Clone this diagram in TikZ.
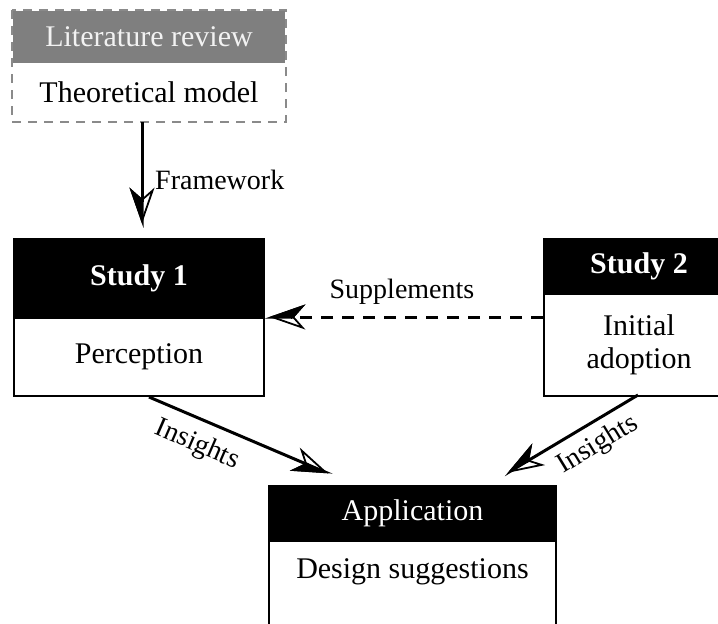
\documentclass[tikz,border=0pt]{standalone}
\usepackage{fontspec}
\setmainfont{Liberation Serif}
\usetikzlibrary{arrows.meta}
\definecolor{litgray}{HTML}{7F7F7F}
\definecolor{dashgray}{HTML}{8A8A8A}
\definecolor{offwhite}{HTML}{F2F2F2}
\begin{document}
\begin{tikzpicture}[x=1pt,y=-1pt,
  boxtxt/.style={font=\fontsize{30}{33}\selectfont},
  lbl/.style={font=\fontsize{28}{32}\selectfont, inner sep=0pt},
  hdr/.style={rectangle, draw=black, fill=black, text=white, line width=2pt, anchor=north west, boxtxt, inner sep=0pt},
  bdy/.style={rectangle, draw=black, fill=white, line width=2pt, anchor=north west, boxtxt, inner sep=0pt, align=center},
  arr/.style={line width=3pt, -{Stealth[open,length=36pt,width=25pt,inset=11pt,line width=1.8pt,sep=-36pt]Stealth[right,length=36pt,width=25pt,inset=11pt]}},
  dasharr/.style={arr, dash pattern=on 12pt off 9pt}
]
\useasboundingbox (0,0) rectangle (718,624);
\clip (0,0) rectangle (718,624);
\fill[white] (0,0) rectangle (718,624);

% Literature review box
\node[hdr, fill=litgray, draw=none, text=offwhite, minimum width=272pt, minimum height=52pt] (lith) at (12,10) {Literature review};
\node[bdy, draw=none, fill=none, minimum width=272pt, minimum height=58pt] (litb) at (12,62) {Theoretical model};
\draw[dashgray, line width=2pt, dash pattern=on 9pt off 7pt] (lith.north west) rectangle (litb.south east);

% Study 1
\node[hdr, minimum width=250pt, minimum height=79pt] (s1h) at (13,238) {\bfseries Study 1};
\node[bdy, minimum width=250pt, minimum height=78pt] (s1b) at (13,317) {Perception};

% Study 2
\node[hdr, minimum width=190pt, minimum height=55pt] (s2h) at (543,238) {\bfseries Study 2};
\node[bdy, minimum width=190pt, minimum height=102pt] (s2b) at (543,293) {Initial\\adoption};

% Application
\node[hdr, minimum width=287pt, minimum height=55pt] (apph) at (268,485) {Application};
\node[bdy, minimum width=287pt, minimum height=120pt,
  label={[boxtxt, anchor=center, yshift=-32pt]north:Design suggestions}] (appb) at (268,540) {};

% Connectors
\draw[arr] ([xshift=-7pt]litb.south) -- ([xshift=3pt,yshift=10pt]s1h.north);
\node[lbl, anchor=west] (fw) at (155,180) {Framework};

\draw[dasharr] (s1b.north east -| s2b.west) -- (s1b.north east);
\node[lbl] (sup) at (402,292) {Supplements};

\draw[arr] ([xshift=10pt]s1b.south) -- ([xshift=64pt,yshift=10pt]apph.north west);
\node[lbl, rotate=-23.5] (ins1) at (197,445) {Insights};

\draw[arr] ([xshift=-1pt,yshift=2pt]s2b.south) -- ([xshift=-53pt,yshift=10pt]apph.north east);
\node[lbl, rotate=31.5] (ins2) at (598,445) {Insights};
\end{tikzpicture}
\end{document}
